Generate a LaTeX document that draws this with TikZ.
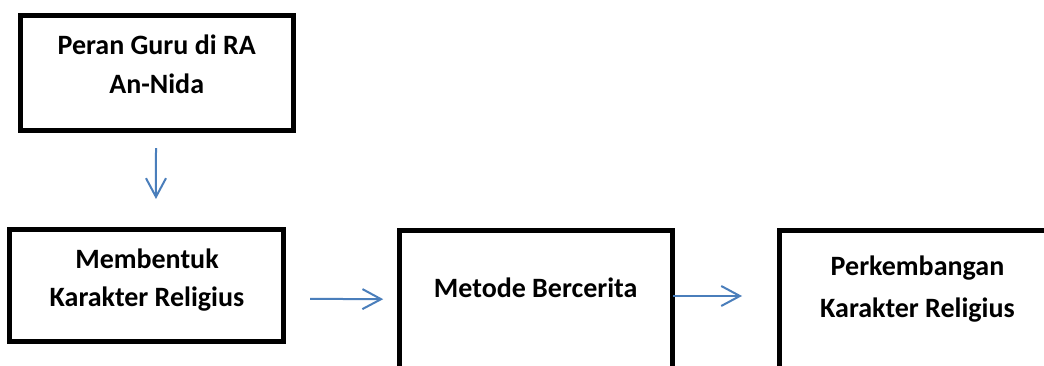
\documentclass[tikz,border=0pt]{standalone}
\usepackage{fontspec}
\setmainfont{Carlito}
\usetikzlibrary{arrows.meta}
\definecolor{flowblue}{HTML}{4A7EBB}
\tikzset{
  box/.style={draw=black, line width=3.4pt, rectangle, inner sep=0pt},
  lbl/.style={anchor=base, align=center, inner sep=0pt, font=\bfseries},
  arr/.style={draw=flowblue, line width=1.5pt,
    -{Straight Barb[length=14pt, width=15pt, line width=1.5pt]}}
}
\begin{document}
\begin{tikzpicture}[x=0.75pt, y=-0.75pt]
  \clip (0,0) rectangle (1044,365);
  \useasboundingbox (0,0) rectangle (1044,365);
  \fill[white] (0,0) rectangle (1044,365);

  % boxes
  \node[box, minimum width={273.5*0.75pt}, minimum height={115.5*0.75pt}] (b1) at (157,73) {};
  \node[box, minimum width={274.5*0.75pt}, minimum height={112.5*0.75pt}] (b2) at (146.5,285.5) {};
  \node[box, minimum width={273.25*0.75pt}, minimum height={200*0.75pt}] (b3) at (536.1,330.25) {};
  \node[box, minimum width={273.25*0.75pt}, minimum height={200*0.75pt}] (b4) at (916.1,330.25) {};

  % labels (anchored at the baseline of their last line)
  \node[lbl, font=\bfseries\fontsize{21}{29.25}\selectfont] (t1) at (156.7,93.3) {Peran Guru di RA\\An-Nida};
  \node[lbl, font=\bfseries\fontsize{21}{28.8}\selectfont] (t2) at (147,306.7) {Membentuk\\Karakter Religius};
  \node[lbl, font=\bfseries\fontsize{21}{25}\selectfont] (t3) at (535.7,297.3) {Metode Bercerita};
  \node[lbl, font=\bfseries\fontsize{21}{32}\selectfont] (t4) at (917.5,317.7) {Perkembangan\\Karakter Religius};

  % connectors
  \draw[arr] ([xshift=-0.75pt, yshift=-11.25pt]b1.south) -- ([xshift=7.1pt, yshift=21pt]b2.north);
  \draw[arr] ([xshift=18pt, yshift=-10pt]b2.east) -- ([xshift=-10.5pt, yshift=23.3pt]b3.west);
  \draw[arr] ([xshift=-1.5pt, yshift=25.7pt]b3.east) -- ([xshift=-26.4pt, yshift=25.7pt]b4.west);
\end{tikzpicture}
\end{document}
